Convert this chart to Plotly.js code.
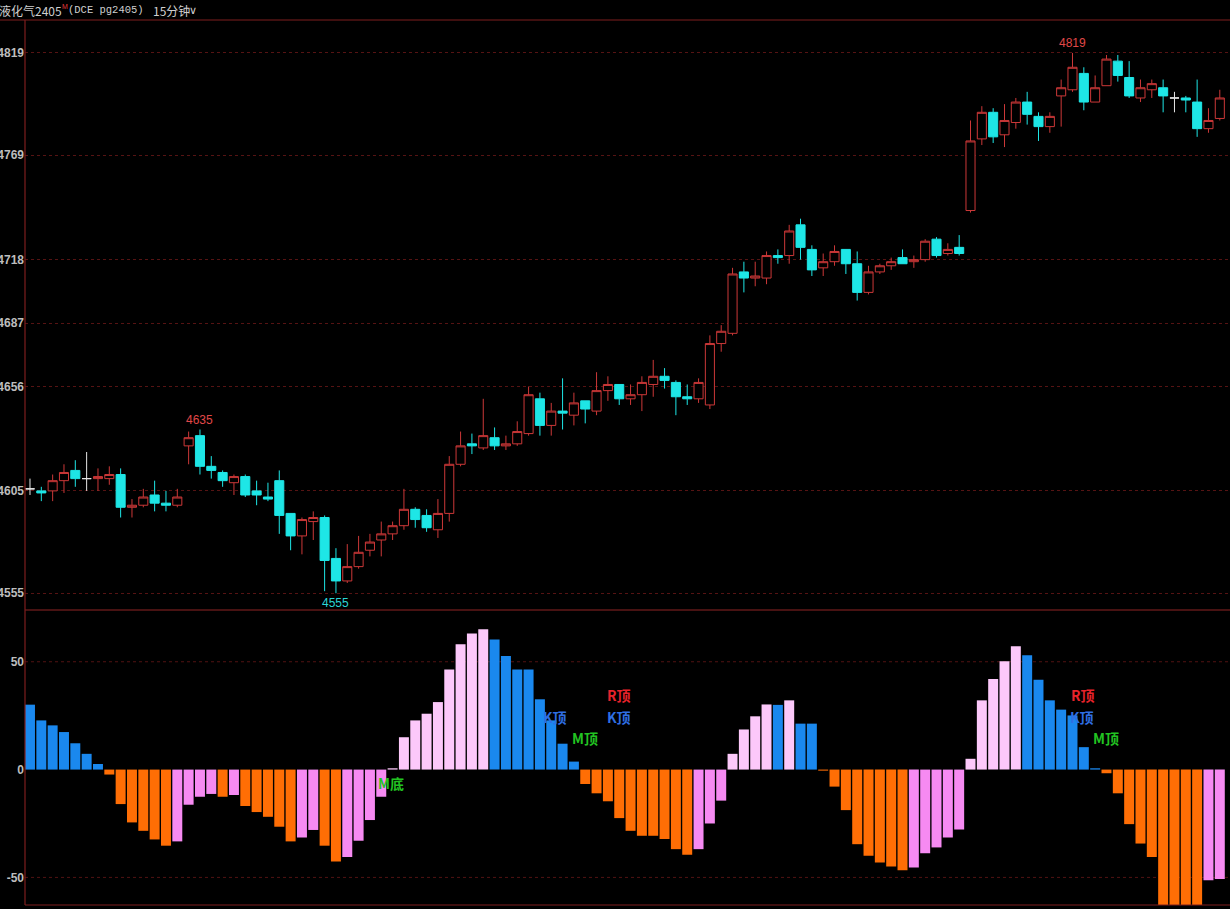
<!DOCTYPE html>
<html><head><meta charset="utf-8">
<script src="https://cdn.plot.ly/plotly-3.0.1.min.js"></script>
<style>html,body{margin:0;padding:0;background:#000;overflow:hidden}#chart{width:1230px;height:909px}</style>
</head><body><div id="chart"></div>
<script>
// ---- data (15-minute bars, 液化气2405) ----
const opens = [4606,4605,4605,4610,4615,4611,4611,4611,4613,4597,4598,4603,4599,4598,4627,4632,4617,4614,4609,4612,
4605,4602,4610,4594,4583,4590,4592,4572,4561,4568,4576,4581,4584,4588,4596,4593,4586,4594,4618,4628,
4626,4631,4627,4628,4633,4650,4637,4644,4642,4649,4644,4654,4657,4650,4652,4657,4661,4658,4651,4650,
4647,4677,4682,4712,4709,4709,4720,4720,4735,4723,4714,4717,4723,4716,4702,4712,4715,4719,4717,4718,
4728,4721,4724,4742,4777,4790,4779,4785,4795,4788,4783,4798,4801,4809,4795,4803,4815,4807,4797,4801,
4802,4797,4797,4795,4782,4787];
const highs = [4611,4607,4613,4618,4620,4624,4616,4617,4616,4601,4606,4610,4605,4606,4634,4635,4622,4615,4613,4613,
4610,4609,4615,4594,4592,4595,4593,4577,4579,4583,4584,4590,4590,4606,4597,4596,4601,4622,4634,4633,
4650,4636,4632,4639,4656,4653,4648,4660,4653,4649,4663,4661,4657,4657,4661,4669,4665,4659,4657,4660,
4681,4686,4714,4717,4717,4722,4723,4735,4738,4725,4721,4725,4723,4722,4715,4716,4719,4723,4720,4728,
4729,4726,4730,4786,4793,4792,4794,4797,4800,4790,4790,4806,4819,4812,4808,4818,4818,4815,4806,4806,
4806,4800,4798,4806,4792,4801];
const lows = [4603,4600,4600,4604,4607,4605,4605,4608,4592,4592,4597,4595,4595,4597,4618,4613,4611,4607,4603,4602,
4598,4600,4584,4576,4574,4581,4556,4555,4560,4567,4573,4573,4581,4586,4587,4585,4582,4590,4617,4623,
4625,4625,4625,4627,4632,4632,4632,4635,4637,4638,4642,4649,4647,4647,4644,4651,4655,4642,4647,4648,
4645,4673,4681,4702,4705,4706,4716,4716,4718,4710,4710,4715,4711,4698,4701,4711,4713,4716,4714,4717,
4719,4720,4720,4741,4774,4775,4773,4782,4784,4776,4780,4783,4800,4791,4795,4803,4805,4797,4795,4797,
4790,4790,4790,4778,4780,4786];
const closes = [4606,4604,4610,4614,4611,4611,4612,4613,4597,4598,4602,4599,4598,4602,4631,4617,4615,4610,4612,4603,
4603,4601,4593,4583,4591,4592,4571,4561,4568,4575,4580,4584,4588,4596,4591,4587,4594,4618,4627,4627,
4632,4627,4628,4634,4652,4637,4644,4643,4648,4645,4654,4657,4650,4652,4658,4661,4659,4651,4650,4658,
4677,4683,4711,4709,4710,4720,4719,4732,4724,4713,4717,4722,4716,4702,4712,4715,4717,4716,4718,4727,
4720,4723,4721,4776,4790,4778,4786,4795,4789,4783,4788,4802,4812,4795,4802,4816,4808,4798,4802,4804,
4798,4797,4796,4782,4786,4797];
const histValues = [30.1,22.8,20.5,17.4,12.2,7.3,2.6,-2.3,-16,-24.5,-28.4,-32.4,-35.3,-33.3,-16.3,-12.6,-11.3,-12.6,-11.8,-16.9,
-19.7,-21.9,-26.5,-33.3,-31.5,-28,-35.3,-42.6,-40.5,-33,-23.4,-12.6,0.6,15,22.8,25.9,31.3,46.4,58.1,63.1,
65.1,60.3,52.7,46.4,46.4,32.6,22.8,12,3.7,-6.7,-11,-14.7,-22.5,-28.4,-30.7,-30.7,-32.2,-36.9,-39.5,-36.9,
-25,-14.4,7.3,18.6,24.7,30.2,30,32.1,21.3,21.3,-0.5,-7.9,-18.8,-34.6,-40,-43.1,-45,-46.7,-45.4,-38.8,
-36.1,-31.5,-27.8,5,32.1,42,50.2,57.2,53,41.7,32.1,27.8,25.1,10.4,0.6,-1.7,-11,-25.3,-34.3,-40.5,
-63,-63,-63,-63,-51.3,-50.8];
// B = falling above 0, L = rising above 0, O = falling below 0, P = rising below 0
const histKinds = ["B","B","B","B","B","B","B","O","O","O","O","O","O","P","P","P","P","O","P","O",
"O","O","O","O","P","P","O","O","P","P","P","P","L","L","L","L","L","L","L","L",
"L","B","B","B","B","B","B","B","B","O","O","O","O","O","O","O","O","O","O","P",
"P","P","L","L","L","L","B","L","B","B","O","O","O","O","O","O","O","O","P","P",
"P","P","P","L","L","L","L","L","B","B","B","B","B","B","B","O","O","O","O","O",
"O","O","O","O","P","P"];
const priceTicks = [4819,4769,4718,4687,4656,4605,4555];
const histTicks = [50,0,-50];
const markedBars = [15,27,92];          // bars whose extreme is printed
const markedSide = ["high","low","high"];
const signalTexts = ["M底","K顶","R顶","K顶","M顶","R顶","K顶","M顶"];

// ---- build ----
const xs = opens.map((_, i) => i);
const isDoji = opens.map((o, i) => o === closes[i]);
const pick = (arr, keep) => arr.map((v, i) => keep(i) ? v : null);

const kindColor = {B:"#1a88ee", L:"#fcc8fa", O:"#ff6e05", P:"#f68af2"};

const candleMain = {
  type:"candlestick", x:xs, xaxis:"x", yaxis:"y",
  open:pick(opens,i=>!isDoji[i]), high:pick(highs,i=>!isDoji[i]),
  low:pick(lows,i=>!isDoji[i]), close:pick(closes,i=>!isDoji[i]),
  increasing:{line:{color:"#cc3838",width:1}, fillcolor:"#000000"},
  decreasing:{line:{color:"#1ee6e6",width:1}, fillcolor:"#1ee6e6"},
  whiskerwidth:0, hoverinfo:"skip"
};
const candleDoji = {
  type:"candlestick", x:xs, xaxis:"x", yaxis:"y",
  open:pick(opens,i=>isDoji[i]), high:pick(highs,i=>isDoji[i]),
  low:pick(lows,i=>isDoji[i]), close:pick(closes,i=>isDoji[i]),
  increasing:{line:{color:"#e6e6e6",width:1}, fillcolor:"#e6e6e6"},
  decreasing:{line:{color:"#e6e6e6",width:1}, fillcolor:"#e6e6e6"},
  whiskerwidth:0, hoverinfo:"skip"
};
const hist = {
  type:"bar", x:xs, y:histValues, xaxis:"x2", yaxis:"y2",
  marker:{color:histKinds.map(k=>kindColor[k]), line:{width:0}},
  hoverinfo:"skip"
};

const xRange = [-0.44, 105.9];
const tickFont = {family:"Liberation Sans, Arial", size:12, color:"#bdbdbd", weight:"bold"};
const frame = "#7e1e1e";

const annotations = [];
// printed extremes
markedBars.forEach((i, k) => {
  const isHigh = markedSide[k] === "high";
  const v = isHigh ? highs[i] : lows[i];
  annotations.push({
    xref:"x", yref:"y", x:i, y:v, text:String(v), showarrow:false,
    yanchor:isHigh ? "bottom" : "top", yshift:isHigh ? 1 : -1,
    font:{family:"Liberation Sans, Arial", size:12, color:isHigh ? "#e04848" : "#2ad6d6"}
  });
});
// signals in the lower panel
const sigStyle = {"M底":"#22c322","M顶":"#22c322","R顶":"#e8232b","K顶":"#2f6fe4"};
const sigPos = [[31.9,-6],[46.3,24.2],[52.0,34.6],[52.0,24.2],[49.0,14.6],[92.9,34.6],[92.8,24.2],[95.0,14.6]];
signalTexts.forEach((t, k) => {
  annotations.push({
    xref:"x2", yref:"y2", x:sigPos[k][0], y:sigPos[k][1], text:"<b>"+t+"</b>", showarrow:false,
    font:{family:"Noto Sans CJK SC", size:14, color:sigStyle[t]}
  });
});
// header line
const hdrFont = {family:"Noto Sans CJK SC", size:12, color:"#cfcfcf"};
annotations.push({xref:"paper", yref:"paper", x:0, y:1, xanchor:"left", yanchor:"middle", xshift:-28, yshift:10,
  text:"液化气2405", showarrow:false, font:hdrFont});
annotations.push({xref:"paper", yref:"paper", x:0, y:1, xanchor:"left", yanchor:"middle", xshift:35, yshift:14,
  text:"M", showarrow:false, font:{family:"Liberation Sans", size:7, color:"#e03a3a"}});
annotations.push({xref:"paper", yref:"paper", x:0, y:1, xanchor:"left", yanchor:"middle", xshift:41, yshift:10,
  text:"(DCE pg2405)", showarrow:false, font:{family:"Liberation Mono", size:10.5, color:"#cfcfcf"}});
annotations.push({xref:"paper", yref:"paper", x:0, y:1, xanchor:"left", yanchor:"middle", xshift:126, yshift:10,
  text:"15分钟", showarrow:false, font:hdrFont});
annotations.push({xref:"paper", yref:"paper", x:0, y:1, xanchor:"left", yanchor:"middle", xshift:162, yshift:10,
  text:"∨", showarrow:false, font:{family:"DejaVu Sans", size:11, color:"#cfcfcf"}});

const split = 295/885;
const shapes = [
  {type:"line", xref:"paper", yref:"paper", x0:-25/1205, x1:1, y0:1, y1:1, line:{color:frame,width:1.2}},
  {type:"line", xref:"paper", yref:"paper", x0:0, x1:1, y0:split, y1:split, line:{color:"#902424",width:1.2}},
  {type:"line", xref:"paper", yref:"paper", x0:0, x1:1, y0:0, y1:0, line:{color:frame,width:1.2}},
  {type:"line", xref:"paper", yref:"paper", x0:0, x1:0, y0:0, y1:1, line:{color:frame,width:1.2}},
  {type:"line", xref:"paper", yref:"y2", x0:0, x1:1, y0:50, y1:50, layer:"below", line:{color:"#521212",width:1,dash:"dot"}},
  {type:"line", xref:"paper", yref:"y2", x0:0, x1:1, y0:-50, y1:-50, layer:"below", line:{color:"#521212",width:1,dash:"dot"}}
];

const layout = {
  width:1230, height:909,
  paper_bgcolor:"#000000", plot_bgcolor:"#000000",
  margin:{l:25, r:0, t:20, b:4},
  showlegend:false, hovermode:false, dragmode:false,
  boxgap:0.2, boxgroupgap:0, bargap:0.12,
  xaxis:{domain:[0,1], anchor:"y", range:xRange, showticklabels:false, showgrid:false, zeroline:false,
         showline:false, ticks:"", rangeslider:{visible:false}, fixedrange:true},
  xaxis2:{domain:[0,1], anchor:"y2", range:xRange, showticklabels:false, showgrid:false, zeroline:false,
          showline:false, ticks:"", fixedrange:true},
  yaxis:{domain:[split,1], anchor:"x", range:[4546.8,4835.1], tickvals:priceTicks, ticktext:priceTicks.map(String),
         showgrid:true, gridcolor:"#561313", griddash:"dot", gridwidth:1, zeroline:false, showline:false,
         ticks:"", tickfont:tickFont, fixedrange:true},
  yaxis2:{domain:[0,split], anchor:"x2", range:[-62.8,74], tickvals:histTicks, ticktext:histTicks.map(String),
          showgrid:false, zeroline:false, showline:false, ticks:"", tickfont:tickFont, fixedrange:true},
  annotations:annotations, shapes:shapes
};

Plotly.newPlot("chart", [hist, candleMain, candleDoji], layout, {displayModeBar:false, staticPlot:true});
</script></body></html>
